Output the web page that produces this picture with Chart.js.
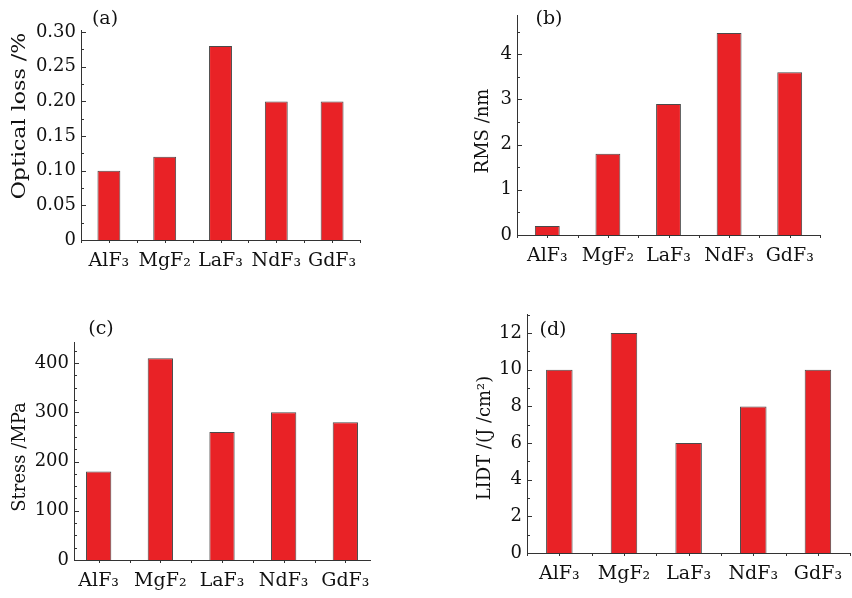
<!DOCTYPE html>
<html lang="en">
<head>
  <meta charset="UTF-8">
  <title>Fluoride films</title>
  <script src="https://cdn.jsdelivr.net/npm/chart.js"></script>
  <style>
    body { margin: 0; background: #fff; }
    #wrap { position: relative; width: 852px; height: 598px; }
    .panel { position: absolute; width: 426px; height: 299px; }
  </style>
</head>
<body>
  <div id="wrap">
    <div class="panel" style="left:0;top:0"><canvas id="ca"></canvas></div>
    <div class="panel" style="left:426px;top:0"><canvas id="cb"></canvas></div>
    <div class="panel" style="left:0;top:299px"><canvas id="cc"></canvas></div>
    <div class="panel" style="left:426px;top:299px"><canvas id="cd"></canvas></div>
  </div>

  <script>
    const categories = ['AlF₃', 'MgF₂', 'LaF₃', 'NdF₃', 'GdF₃'];
    const opticalLoss = [0.10, 0.12, 0.28, 0.20, 0.20];
    const rms = [0.2, 1.8, 2.9, 4.47, 3.6];
    const stress = [180, 410, 260, 300, 280];
    const lidt = [10, 12, 6, 8, 10];

    const lossTicks = ['0', '0.05', '0.10', '0.15', '0.20', '0.25', '0.30'];
    const rmsTicks = ['0', '1', '2', '3', '4'];
    const stressTicks = ['0', '100', '200', '300', '400'];
    const lidtTicks = ['0', '2', '4', '6', '8', '10', '12'];

    Chart.defaults.font.family = '"DejaVu Serif", serif';
    Chart.defaults.font.size = 18;
    Chart.defaults.color = '#111';

    // inward y ticks (major + minor), small downward x ticks
    const axisTicks = {
      id: 'axisTicks',
      afterDraw(chart, args, opts) {
        const { ctx, chartArea: a, scales: { x, y } } = chart;
        const majors = opts.majors;
        ctx.save();
        ctx.strokeStyle = '#333';
        ctx.lineWidth = 1;
        ctx.beginPath();
        const n = Math.floor(y.max / opts.minor + 1e-6);
        for (let i = 0; i <= n; i++) {
          const v = i * opts.minor;
          const isMajor = majors.some(m => Math.abs(m - v) < opts.minor / 10);
          const py = Math.round(y.getPixelForValue(v)) + 0.5;
          ctx.moveTo(a.left, py);
          ctx.lineTo(a.left + (isMajor ? 5 : 3), py);
        }
        for (let v = 0.5; v <= 5.5; v += 0.5) {
          if (v < x.min || v > x.max) continue;
          const px = Math.round(x.getPixelForValue(v)) + 0.5;
          ctx.moveTo(px, a.bottom);
          ctx.lineTo(px, a.bottom + 3);
        }
        ctx.stroke();
        ctx.restore();
      }
    };

    const panelText = {
      id: 'panelText',
      afterDraw(chart, args, opts) {
        const ctx = chart.ctx;
        ctx.save();
        ctx.fillStyle = '#111';
        ctx.textAlign = 'center';
        ctx.textBaseline = 'middle';
        ctx.font = '19px "DejaVu Serif", serif';
        ctx.fillText(opts.letter, opts.lx, opts.ly);
        ctx.font = '18px "DejaVu Serif", serif';
        ctx.translate(opts.tx, opts.ty);
        ctx.rotate(-Math.PI / 2);
        ctx.scale(opts.stretch || 1, 1);
        ctx.fillText(opts.title, 0, 0);
        ctx.restore();
      }
    };

    function makePanel(id, values, tickLabels, p) {
      const majors = tickLabels.map(Number);
      new Chart(document.getElementById(id), {
        type: 'bar',
        data: {
          datasets: [{
            data: values.map((v, i) => ({ x: i + 1, y: v })),
            backgroundColor: '#e92226',
            borderColor: '#4a4a4a',
            borderWidth: 1,
            barPercentage: 0.41,
            categoryPercentage: 1
          }]
        },
        options: {
          responsive: true,
          maintainAspectRatio: false,
          animation: false,
          layout: { padding: { left: 0, top: p.top, right: p.right, bottom: 0 } },
          plugins: {
            legend: { display: false },
            tooltip: { enabled: false },
            axisTicks: { minor: p.minor, majors: majors },
            panelText: p.text
          },
          scales: {
            x: {
              type: 'linear',
              offset: false,
              min: p.xMin,
              max: p.xMax,
              afterBuildTicks: s => { s.ticks = categories.map((c, i) => ({ value: i + 1 })); },
              afterFit: s => { s.height = p.xHeight; },
              grid: { display: false, drawTicks: false, offset: false },
              border: { color: '#333', width: 1 },
              ticks: {
                autoSkip: false,
                maxRotation: 0,
                padding: 10,
                font: { size: 19 },
                callback: (v, i) => categories[i]
              }
            },
            y: {
              min: 0,
              max: p.yMax,
              afterBuildTicks: s => { s.ticks = majors.map(v => ({ value: v })); },
              afterFit: s => { s.width = p.yWidth; },
              grid: { display: false, drawTicks: false },
              border: { color: '#333', width: 1 },
              ticks: {
                autoSkip: false,
                padding: 5,
                callback: (v, i) => tickLabels[i]
              }
            }
          }
        },
        plugins: [axisTicks, panelText]
      });
    }

    makePanel('ca', opticalLoss, lossTicks, {
      top: 30, right: 66, yWidth: 81, xHeight: 59, yMax: 0.303, minor: 0.025,
      xMin: 0.5, xMax: 5.5,
      text: { letter: '(a)', lx: 105, ly: 19, title: 'Optical loss /%', tx: 20, ty: 116, stretch: 1.23 }
    });
    makePanel('cb', rms, rmsTicks, {
      top: 10, right: 32, yWidth: 91, xHeight: 64, yMax: 4.85, minor: 0.5,
      xMin: 0.5, xMax: 5.5,
      text: { letter: '(b)', lx: 123, ly: 19, title: 'RMS /nm', tx: 57, ty: 131 }
    });
    makePanel('cc', stress, stressTicks, {
      top: 43, right: 56, yWidth: 74, xHeight: 38, yMax: 443, minor: 25,
      xMin: 0.6, xMax: 5.4,
      text: { letter: '(c)', lx: 101, ly: 30, title: 'Stress /MPa', tx: 20, ty: 158 }
    });
    makePanel('cd', lidt, lidtTicks, {
      top: 11, right: 0, yWidth: 101, xHeight: 45, yMax: 13, minor: 1,
      xMin: 0.5, xMax: 5.5,
      text: { letter: '(d)', lx: 127, ly: 31, title: 'LIDT /(J /cm²)', tx: 59, ty: 139 }
    });
  </script>
</body>
</html>
